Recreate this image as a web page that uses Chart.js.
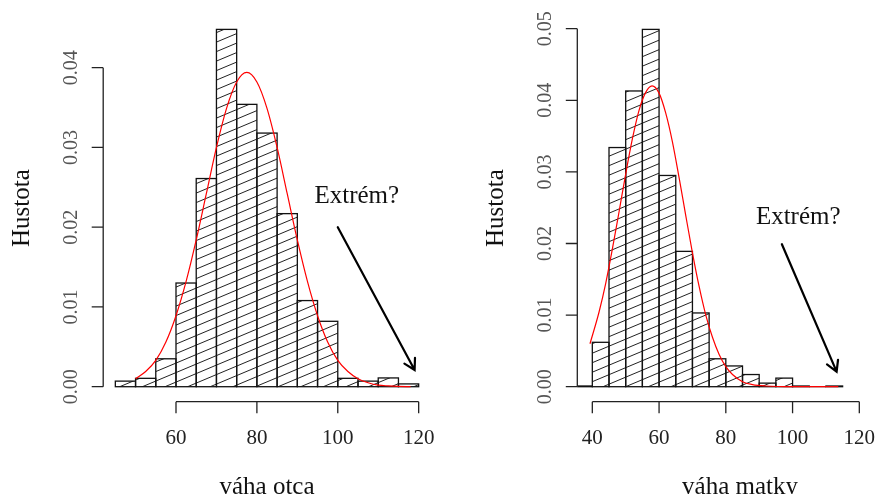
<!DOCTYPE html>
<html>
<head>
<meta charset="utf-8">
<script src="https://cdn.jsdelivr.net/npm/chart.js@4.4.1/dist/chart.umd.min.js"></script>
<style>
  html, body { margin: 0; padding: 0; background: #fff; overflow: hidden; }
  body { width: 877px; height: 494px; position: relative; }
  canvas { position: absolute; top: 0; }
  #otec { left: 0; }
  #matka { left: 438px; }
</style>
</head>
<body>
<canvas id="otec" width="438" height="494"></canvas>
<canvas id="matka" width="470" height="494"></canvas>
<script>
// Fathers' weight histogram (5 kg bins, density scale) and fitted normal curve
const otecBinStarts = [45, 50, 55, 60, 65, 70, 75, 80, 85, 90, 95, 100, 105, 110, 115];
const otecDensity = [0.0007, 0.00105, 0.0035, 0.013, 0.0261, 0.0448, 0.0354, 0.0318, 0.0217, 0.0108, 0.0082, 0.00105, 0.0007, 0.0011, 0.00035];
const otecCurveX = [50, 52.5, 55, 57.5, 60, 62.5, 65, 67.5, 70, 72.5, 75, 77.5, 80, 82.5, 85, 87.5, 90, 92.5, 95, 97.5, 100, 102.5, 105, 107.5, 110, 112.5, 115, 118];
const otecCurveY = [0.0010, 0.0019, 0.0033, 0.0056, 0.0089, 0.0132, 0.0184, 0.0242, 0.0300, 0.0349, 0.0382, 0.0394, 0.0382, 0.0349, 0.0300, 0.0242, 0.0184, 0.0132, 0.0089, 0.0056, 0.0033, 0.0019, 0.0010, 0.0005, 0.0002, 0.0001, 0.00004, 0.00001];
const otecXTicks = [60, 80, 100, 120];
const otecXLabels = ['60', '80', '100', '120'];
const otecYTicks = [0, 0.01, 0.02, 0.03, 0.04];
const otecYLabels = ['0.00', '0.01', '0.02', '0.03', '0.04'];

// Mothers' weight histogram
const matkaBinStarts = [35, 40, 45, 50, 55, 60, 65, 70, 75, 80, 85, 90, 95, 100, 105, 110];
const matkaDensity = [0.0001, 0.0062, 0.0334, 0.0413, 0.0499, 0.0295, 0.0189, 0.0103, 0.0039, 0.0029, 0.0017, 0.0005, 0.0012, 0.0001, 0, 0.0001];
const matkaCurveX = [39.3, 42, 44, 46, 48, 50, 52, 54, 56, 57.9, 60, 62, 64, 66, 68, 70, 72, 74, 76, 78, 80, 82, 85, 88, 92, 100, 113.7];
const matkaCurveY = [0.0060, 0.0104, 0.0144, 0.0192, 0.0244, 0.0297, 0.0346, 0.0386, 0.0411, 0.0420, 0.0410, 0.0382, 0.0342, 0.0292, 0.0239, 0.0187, 0.0140, 0.0100, 0.0069, 0.0045, 0.0028, 0.0017, 0.0007, 0.0003, 0.0001, 0, 0];
const matkaXTicks = [40, 60, 80, 100, 120];
const matkaXLabels = ['40', '60', '80', '100', '120'];
const matkaYTicks = [0, 0.01, 0.02, 0.03, 0.04, 0.05];
const matkaYLabels = ['0.00', '0.01', '0.02', '0.03', '0.04', '0.05'];

const binWidth = 5;
const SERIF = "'Liberation Serif', 'Times New Roman', serif";

// base-graphics look: hatched bars, detached axes, rotated y labels, arrow note
const rStyle = {
  id: 'rStyle',
  afterDatasetDraw(chart, args) {
    if (chart.data.datasets[args.index].type !== 'bar') return;
    const ctx = chart.ctx, area = chart.chartArea;
    const slope = 0.42, gap = 9.5;
    ctx.save();
    ctx.beginPath();
    ctx.rect(area.left, area.top, area.right - area.left, area.bottom - area.top);
    ctx.clip();
    args.meta.data.forEach(bar => {
      const p = bar.getProps(['x', 'y', 'base', 'width'], true);
      const l = p.x - p.width / 2, r = p.x + p.width / 2;
      const t = Math.min(p.y, p.base), b = Math.max(p.y, p.base);
      if (b - t > 2) {
        ctx.save();
        ctx.beginPath();
        ctx.rect(l, t, r - l, b - t);
        ctx.clip();
        ctx.beginPath();
        const cMin = t + slope * l, cMax = b + slope * r;
        for (let c = Math.ceil(cMin / gap) * gap; c <= cMax; c += gap) {
          ctx.moveTo(l, c - slope * l);
          ctx.lineTo(r, c - slope * r);
        }
        ctx.lineWidth = 1;
        ctx.strokeStyle = '#222';
        ctx.stroke();
        ctx.restore();
      }
      ctx.lineWidth = 1.3;
      ctx.strokeStyle = '#111';
      ctx.strokeRect(l, t, r - l, b - t);
    });
    ctx.restore();
  },
  afterDraw(chart) {
    const o = chart.options.plugins.rStyle;
    const ctx = chart.ctx, area = chart.chartArea;
    const xs = chart.scales.x, ys = chart.scales.y;
    ctx.save();
    ctx.strokeStyle = '#222';
    ctx.lineWidth = 1.3;

    // y axis
    const ax = area.left;
    ctx.beginPath();
    ctx.moveTo(ax, ys.getPixelForValue(o.yTicks[0]));
    ctx.lineTo(ax, ys.getPixelForValue(o.yTicks[o.yTicks.length - 1]));
    o.yTicks.forEach(v => {
      const p = ys.getPixelForValue(v);
      ctx.moveTo(ax, p);
      ctx.lineTo(ax - 11.5, p);
    });
    // x axis
    const ay = area.bottom + 0.7;
    ctx.moveTo(xs.getPixelForValue(o.xTicks[0]), ay);
    ctx.lineTo(xs.getPixelForValue(o.xTicks[o.xTicks.length - 1]), ay);
    o.xTicks.forEach(v => {
      const p = xs.getPixelForValue(v);
      ctx.moveTo(p, ay);
      ctx.lineTo(p, ay + 11.6);
    });
    ctx.stroke();

    // tick labels
    ctx.font = '20px ' + SERIF;
    ctx.textAlign = 'center';
    ctx.textBaseline = 'alphabetic';
    ctx.fillStyle = '#555';
    o.yTicks.forEach((v, i) => {
      ctx.save();
      ctx.translate(ax - 26.5, ys.getPixelForValue(v));
      ctx.rotate(-Math.PI / 2);
      ctx.fillText(o.yLabels[i], 0, 0);
      ctx.restore();
    });
    ctx.font = '21px ' + SERIF;
    ctx.fillStyle = '#222';
    o.xTicks.forEach((v, i) => {
      ctx.fillText(o.xLabels[i], xs.getPixelForValue(v), ay + 42.3);
    });

    // axis titles
    ctx.font = '25px ' + SERIF;
    ctx.fillStyle = '#111';
    ctx.fillText(o.xTitle, (area.left + area.right) / 2, 494);
    ctx.save();
    ctx.translate(ax - 74, (area.top + area.bottom) / 2);
    ctx.rotate(-Math.PI / 2);
    ctx.fillText(o.yTitle, 0, 0);
    ctx.restore();

    // annotation text and arrow
    ctx.textBaseline = 'middle';
    ctx.fillText(o.note.text, xs.getPixelForValue(o.note.x), ys.getPixelForValue(o.note.y));
    const x0 = xs.getPixelForValue(o.arrow[0]), y0 = ys.getPixelForValue(o.arrow[1]);
    const x1 = xs.getPixelForValue(o.arrow[2]), y1 = ys.getPixelForValue(o.arrow[3]);
    const ang = Math.atan2(y1 - y0, x1 - x0), head = 12, spread = Math.PI / 6;
    ctx.strokeStyle = '#000';
    ctx.lineWidth = 2.2;
    ctx.lineCap = 'round';
    ctx.beginPath();
    ctx.moveTo(x0, y0);
    ctx.lineTo(x1, y1);
    ctx.moveTo(x1 - head * Math.cos(ang - spread), y1 - head * Math.sin(ang - spread));
    ctx.lineTo(x1, y1);
    ctx.lineTo(x1 - head * Math.cos(ang + spread), y1 - head * Math.sin(ang + spread));
    ctx.stroke();
    ctx.restore();
  }
};

function makeHist(id, h) {
  const top = Math.max(...h.density);
  const bars = h.binStarts.map((s, i) => ({ x: s + binWidth / 2, y: h.density[i] }));
  const curve = h.curveX.map((x, i) => ({ x: x, y: h.curveY[i] }));
  return new Chart(document.getElementById(id), {
    type: 'bar',
    data: {
      datasets: [
        {
          type: 'line',
          data: curve,
          borderColor: '#ff0000',
          borderWidth: 1.2,
          pointRadius: 0,
          cubicInterpolationMode: 'monotone',
          fill: false
        },
        {
          type: 'bar',
          data: bars,
          backgroundColor: '#ffffff',
          borderColor: '#111',
          borderWidth: 0,
          barPercentage: 1,
          categoryPercentage: 1
        }
      ]
    },
    options: {
      responsive: false,
      animation: false,
      events: [],
      layout: { padding: h.padding },
      plugins: {
        legend: { display: false },
        tooltip: { enabled: false },
        rStyle: {
          xTicks: h.xTicks, xLabels: h.xLabels,
          yTicks: h.yTicks, yLabels: h.yLabels,
          xTitle: h.xTitle, yTitle: 'Hustota',
          note: h.note, arrow: h.arrow
        }
      },
      scales: {
        x: {
          type: 'linear', min: h.xMin, max: h.xMax, offset: false, display: false,
          afterBuildTicks: s => { s.ticks = h.xTicks.map(v => ({ value: v })); }
        },
        y: {
          type: 'linear', min: -0.04 * top, max: 1.04 * top, display: false,
          afterBuildTicks: s => { s.ticks = h.yTicks.map(v => ({ value: v })); }
        }
      }
    },
    plugins: [rStyle]
  });
}

makeHist('otec', {
  binStarts: otecBinStarts, density: otecDensity,
  curveX: otecCurveX, curveY: otecCurveY,
  xTicks: otecXTicks, xLabels: otecXLabels,
  yTicks: otecYTicks, yLabels: otecYLabels,
  xMin: 42, xMax: 123,
  padding: { left: 103.2, right: 7.2, top: 15.1, bottom: 93 },
  xTitle: 'váha otca',
  note: { text: 'Extrém?', x: 104.7, y: 0.0238 },
  arrow: [100, 0.02, 119, 0.0021]
});

makeHist('matka', {
  binStarts: matkaBinStarts, density: matkaDensity,
  curveX: matkaCurveX, curveY: matkaCurveY,
  xTicks: matkaXTicks, xLabels: matkaXLabels,
  yTicks: matkaYTicks, yLabels: matkaYLabels,
  xMin: 35.5, xMax: 133,
  padding: { left: 139.3, right: 5.3, top: 15.1, bottom: 93 },
  xTitle: 'váha matky',
  note: { text: 'Extrém?', x: 101.7, y: 0.0237 },
  arrow: [96.8, 0.0199, 113.2, 0.0021]
});
</script>
</body>
</html>
